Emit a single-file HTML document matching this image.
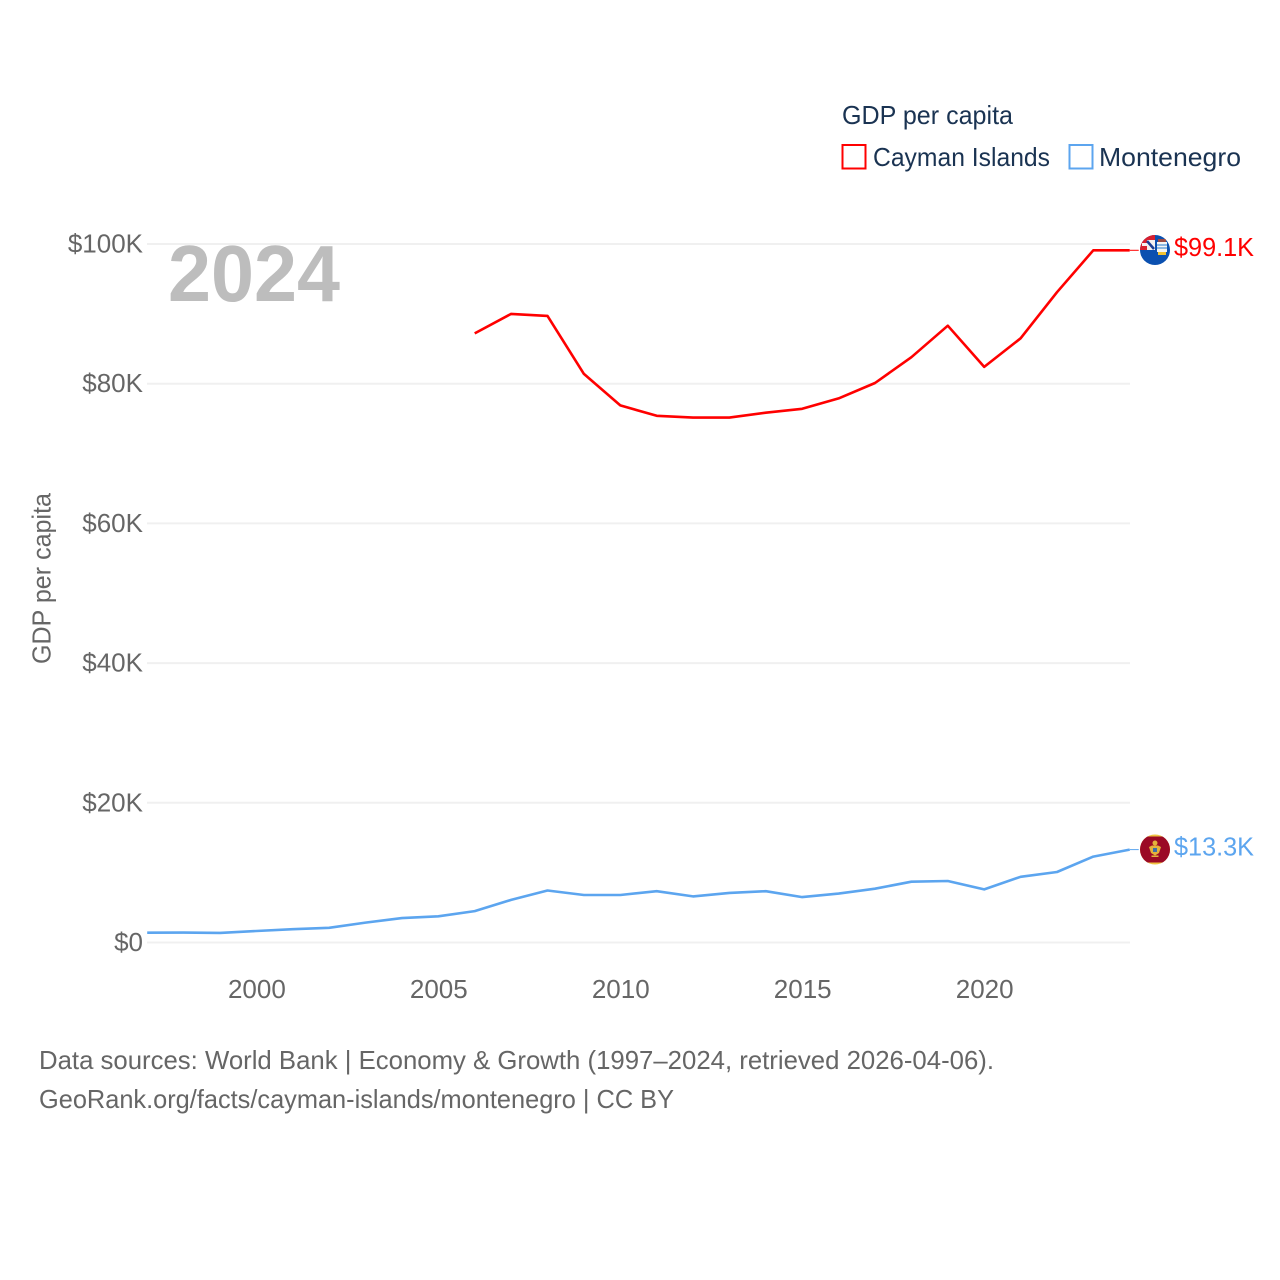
<!DOCTYPE html>
<html lang="en">
<head>
<meta charset="utf-8">
<title>GDP per capita: Cayman Islands and Montenegro</title>
<style>
html,body{margin:0;padding:0;background:#fff;}
svg{display:block;font-family:"Liberation Sans",Arial,sans-serif;}
.tick{font-size:26px;fill:#666;}
.legend{font-size:26px;fill:#1a3352;}
.foot{font-size:26px;fill:#666;}
</style>
</head>
<body>
<svg id="chart" width="1280" height="1280" viewBox="0 0 1280 1280" xmlns="http://www.w3.org/2000/svg">
  <defs>
    <clipPath id="clip-cayman"><circle cx="1155" cy="250" r="15"/></clipPath>
    <clipPath id="clip-montenegro"><circle cx="1155" cy="849.5" r="15"/></clipPath>
  </defs>
  <g id="grid"></g>
  <g id="ylabels"></g>
  <g id="xlabels"></g>
  <text x="168" y="301" font-size="80" font-weight="700" fill="#bdbdbd" textLength="172" lengthAdjust="spacingAndGlyphs">2024</text>
  <text transform="translate(50.5,578.5) rotate(-90)" text-anchor="middle" class="tick" textLength="171" lengthAdjust="spacingAndGlyphs">GDP per capita</text>
  <g id="series"></g>

  <g>
    <text x="842" y="124" class="legend" textLength="171" lengthAdjust="spacingAndGlyphs">GDP per capita</text>
    <rect x="842.5" y="145" width="23" height="23.500" fill="#fff" stroke="#ff0000" stroke-width="2"/>
    <text x="873" y="166" class="legend" textLength="177" lengthAdjust="spacingAndGlyphs">Cayman Islands</text>
    <rect x="1069.5" y="145" width="23" height="23.500" fill="#fff" stroke="#5ca5ef" stroke-width="2"/>
    <text x="1099" y="166" class="legend" textLength="142" lengthAdjust="spacingAndGlyphs">Montenegro</text>
  </g>

  <g clip-path="url(#clip-cayman)">
    <rect x="1140" y="235" width="30" height="30" fill="#0b50b0"/>
    <rect x="1140" y="235" width="15" height="15" fill="#d8202f"/>
    <rect x="1147" y="240" width="8" height="10" fill="#f4f0f0"/>
    <rect x="1142" y="243" width="13" height="3" fill="#f4f0f0"/>
    <path d="M1147 241L1154 249" stroke="#1c3f94" stroke-width="2.500"/>
    <rect x="1158" y="239" width="8" height="3" fill="#9c4a42"/>
    <rect x="1157" y="242" width="10" height="10" fill="#f4f4f4"/>
    <path d="M1157 245H1167M1157 248H1167" stroke="#4f93d8" stroke-width="1.200"/>
    <rect x="1158" y="252" width="8" height="3" fill="#f1c232"/>
  </g>
  <g clip-path="url(#clip-montenegro)">
    <rect x="1140" y="834.5" width="30" height="30" fill="#f0c542"/>
    <rect x="1140" y="836.5" width="30" height="26" fill="#9b0a25"/>
    <path d="M1149 847L1152 845.500H1158L1161 847L1159 853L1155 855.500L1151 853Z" fill="#e3b23c"/>
    <circle cx="1155" cy="843" r="2.500" fill="#e3b23c"/>
    <rect x="1153" y="848" width="4" height="4" fill="#3f6fa8"/>
    <rect x="1151.500" y="855.500" width="7" height="1.500" fill="#e3b23c"/>
  </g>

  <g>
    <text x="39" y="1069" class="foot" textLength="955" lengthAdjust="spacingAndGlyphs">Data sources: World Bank | Economy &amp; Growth (1997–2024, retrieved 2026-04-06).</text>
    <text x="39" y="1108" class="foot" textLength="635" lengthAdjust="spacingAndGlyphs">GeoRank.org/facts/cayman-islands/montenegro | CC BY</text>
  </g>
</svg>
<script>
const years = [1997,1998,1999,2000,2001,2002,2003,2004,2005,2006,2007,2008,2009,2010,2011,2012,2013,2014,2015,2016,2017,2018,2019,2020,2021,2022,2023,2024];
const caymanValues = [null,null,null,null,null,null,null,null,null,87.2,90.0,89.7,81.4,76.9,75.4,75.15,75.15,75.85,76.4,77.9,80.1,83.8,88.3,82.4,86.5,93.1,99.1,99.1];
const montenegroValues = [1.4,1.42,1.38,1.65,1.9,2.1,2.85,3.5,3.75,4.5,6.1,7.45,6.8,6.8,7.35,6.6,7.1,7.35,6.5,7.0,7.7,8.7,8.8,7.6,9.4,10.1,12.3,13.3];
const yTicks = [0,20,40,60,80,100];
const yTickLabels = ["$0","$20K","$40K","$60K","$80K","$100K"];
const xTicks = [2000,2005,2010,2015,2020];
const xTickLabels = ["2000","2005","2010","2015","2020"];
const caymanEndLabel = "$99.1K";
const montenegroEndLabel = "$13.3K";

const NS = "http://www.w3.org/2000/svg";
const xScale = function (yr) { return 147.2 + (yr - 1997) * 36.39; };
const yScale = function (v) { return 942.5 - v * 6.985; };

function make(tag, parent) {
  const el = document.createElementNS(NS, tag);
  parent.appendChild(el);
  return el;
}

const grid = document.getElementById("grid");
const ylabels = document.getElementById("ylabels");
const xlabels = document.getElementById("xlabels");
const seriesGroup = document.getElementById("series");

yTicks.forEach(function (t, i) {
  const ln = make("line", grid);
  
  
  ln.setAttribute("x1", 147);
  ln.setAttribute("x2", 1130);
  ln.setAttribute("y1", yScale(t));
  ln.setAttribute("y2", yScale(t));
  ln.setAttribute("stroke", "#f0f0f0");
  ln.setAttribute("stroke-width", "2");

  const tx = make("text", ylabels);
  
  
  tx.setAttribute("class", "tick");
  tx.setAttribute("x", 143);
  tx.setAttribute("y", yScale(t) + 8.5);
  tx.setAttribute("text-anchor", "end");
  tx.textContent = yTickLabels[i];
});

xTicks.forEach(function (t, i) {
  const tx = make("text", xlabels);
  
  
  tx.setAttribute("class", "tick");
  tx.setAttribute("x", xScale(t) + 0.5);
  tx.setAttribute("y", 998);
  tx.setAttribute("text-anchor", "middle");
  tx.textContent = xTickLabels[i];
});

function drawSeries(values, color, lineName, leaderName, labelName, labelText, labelY) {
  const pts = [];
  values.forEach(function (v, i) {
    if (v !== null) pts.push(xScale(years[i]).toFixed(1) + "," + yScale(v).toFixed(1));
  });
  const line = make("polyline", seriesGroup);
  
  
  line.setAttribute("points", pts.join(" "));
  line.setAttribute("fill", "none");
  line.setAttribute("stroke", color);
  line.setAttribute("stroke-width", "2.6");
  line.setAttribute("stroke-linejoin", "round");

  const last = values[values.length - 1];
  const lastX = xScale(years[years.length - 1]);
  const leader = make("line", seriesGroup);
  
  
  leader.setAttribute("x1", lastX);
  leader.setAttribute("x2", lastX + 9);
  leader.setAttribute("y1", yScale(last));
  leader.setAttribute("y2", yScale(last));
  leader.setAttribute("stroke", color);
  leader.setAttribute("stroke-width", "1");

  const label = make("text", seriesGroup);
  
  
  label.setAttribute("x", 1174);
  label.setAttribute("y", yScale(last) + labelY);
  label.setAttribute("font-size", "26");
  label.setAttribute("fill", color);
  label.setAttribute("textLength", "80");
  label.setAttribute("lengthAdjust", "spacingAndGlyphs");
  label.textContent = labelText;
}

drawSeries(caymanValues, "#ff0000", "cayman-islands-line", "cayman-islands-leader", "cayman-islands-value", caymanEndLabel, 5.5);
drawSeries(montenegroValues, "#5ca5ef", "montenegro-line", "montenegro-leader", "montenegro-value", montenegroEndLabel, 6);
</script>
</body>
</html>
